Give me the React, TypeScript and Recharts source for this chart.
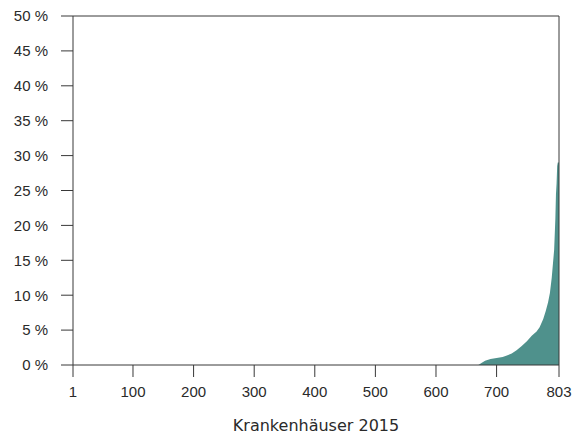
import React from 'react';
import { AreaChart, Area, XAxis, YAxis, ReferenceLine } from 'recharts';

// hospital rank (sorted ascending) and share in percent
const hospitals = [1, 670, 675, 681, 690, 700, 710, 717, 725, 733, 741, 750, 758, 766, 771, 777, 781, 785, 788, 791, 793, 795, 797, 798, 799, 800, 801, 803];
const shares = [0, 0, 0.3, 0.6, 0.85, 1.0, 1.15, 1.35, 1.65, 2.1, 2.7, 3.4, 4.2, 4.8, 5.4, 6.6, 7.7, 9.0, 10.3, 12.5, 14.5, 16.5, 21, 24.5, 26, 28.5, 29, 29];

const xTicks = [1, 100, 200, 300, 400, 500, 600, 700, 803];
const yTicks = [0, 5, 10, 15, 20, 25, 30, 35, 40, 45, 50];

const data = hospitals.map((h, i) => ({ rank: h, share: shares[i] }));

const axisColor = '#383838';
const textColor = '#2a2a2a';
const tickFont = { fontFamily: 'Liberation Sans', fontSize: 15, fill: textColor };

const App: React.FC = () => {
  return (
    <div style={{ position: 'absolute', left: 0, top: 0, background: '#fff' }}>
      <AreaChart
        width={573}
        height={440}
        data={data}
        margin={{ top: 16, right: 14, left: 0, bottom: 0 }}
      >
        <XAxis
          dataKey="rank"
          type="number"
          domain={[1, 803]}
          ticks={xTicks}
          interval={0}
          height={75}
          stroke={axisColor}
          tickSize={12}
          tickMargin={9}
          tick={tickFont}
          label={{
            value: 'Krankenhäuser 2015',
            position: 'insideBottom',
            offset: 9,
            style: { fontFamily: 'DejaVu Sans', fontSize: 16, fill: textColor },
          }}
        />
        <YAxis
          type="number"
          domain={[0, 50]}
          ticks={yTicks}
          interval={0}
          width={73}
          stroke={axisColor}
          tickSize={12}
          tickMargin={13}
          tick={tickFont}
          tickFormatter={(v: number) => `${v} %`}
        />
        <ReferenceLine y={50} stroke={axisColor} />
        <ReferenceLine x={803} stroke={axisColor} />
        <Area
          type="linear"
          dataKey="share"
          stroke="none"
          fill="#4f918c"
          fillOpacity={1}
          isAnimationActive={false}
        />
      </AreaChart>
    </div>
  );
};

export default App;
